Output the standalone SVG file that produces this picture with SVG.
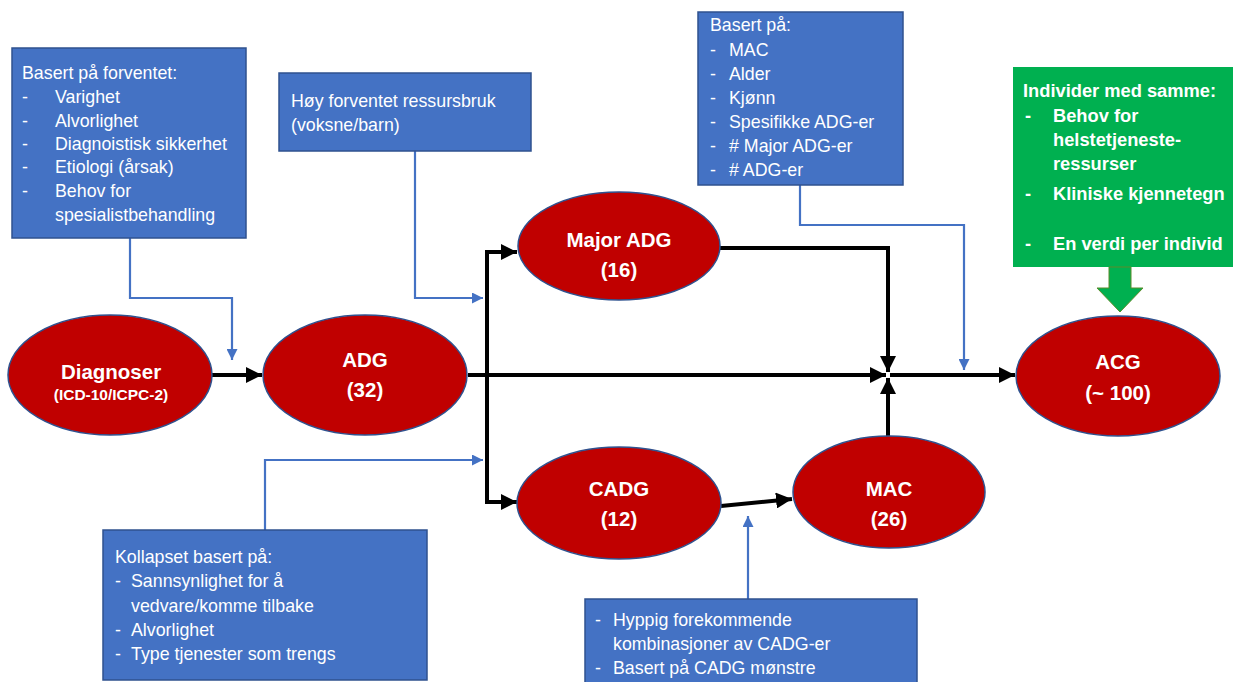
<svg xmlns="http://www.w3.org/2000/svg" width="1235" height="682" viewBox="0 0 1235 682">
<style>
.box{fill:#4472C4;stroke:#2F528F;stroke-width:1.5}
.gbox{fill:#00B050;stroke:none}
.ell{fill:#C00000;stroke:#2F528F;stroke-width:1.5}
.bt{font-family:"Liberation Sans",Arial,sans-serif;font-size:17.8px;fill:#ffffff}
.gt{font-family:"Liberation Sans",Arial,sans-serif;font-size:18.3px;font-weight:bold;fill:#ffffff}
.et{font-family:"Liberation Sans",Arial,sans-serif;font-size:20.5px;font-weight:bold;fill:#ffffff;text-anchor:middle}
.es{font-family:"Liberation Sans",Arial,sans-serif;font-size:15.5px;font-weight:bold;fill:#ffffff;text-anchor:middle}
.blk{fill:none;stroke:#000;stroke-width:4;marker-end:url(#ab)}
.blkn{fill:none;stroke:#000;stroke-width:4}
.blu{fill:none;stroke:#4472C4;stroke-width:2.2;marker-end:url(#abl)}
</style>
<defs>
<marker id="ab" viewBox="0 0 10 10" refX="10" refY="5" markerWidth="4" markerHeight="4" orient="auto" markerUnits="strokeWidth"><path d="M0,0 L10,5 L0,10 z" fill="#000"/></marker>
<marker id="abl" viewBox="0 0 10 10" refX="10" refY="5" markerWidth="5" markerHeight="5" orient="auto" markerUnits="strokeWidth"><path d="M0,0 L10,5 L0,10 z" fill="#4472C4"/></marker>
</defs>

<g id="connectors">
<path class="blk" d="M212,375 L262,375"/>
<path class="blkn" d="M468,375 L487,375"/>
<path class="blk" d="M487,375 L886,375"/>
<path class="blk" d="M890,375 L1015,375"/>
<path class="blkn" d="M487,252 L487,502"/>
<path class="blk" d="M485,252 L517,252"/>
<path class="blk" d="M485,502 L517,502"/>
<path class="blk" d="M720,248 L888,248 L888,372"/>
<path class="blk" d="M888,437 L888,378"/>
<path class="blk" d="M721,506 L792,499"/>
<path class="blu" d="M130,238 L130,298 L232,298 L232,360"/>
<path class="blu" d="M415,150 L415,298 L483,298"/>
<path class="blu" d="M800,185 L800,225 L964,225 L964,370"/>
<path class="blu" d="M265,530 L265,460 L483,460"/>
<path class="blu" d="M748,599 L748,516"/>
</g>

<g id="box-forventet">
<rect class="box" x="12" y="48" width="234" height="190"/>
<text class="bt" x="22" y="79">Basert på forventet:</text>
<text class="bt" x="22" y="103">-</text><text class="bt" x="55" y="103">Varighet</text>
<text class="bt" x="22" y="127">-</text><text class="bt" x="55" y="127">Alvorlighet</text>
<text class="bt" x="22" y="150">-</text><text class="bt" x="55" y="150">Diagnoistisk sikkerhet</text>
<text class="bt" x="22" y="173">-</text><text class="bt" x="55" y="173">Etiologi (årsak)</text>
<text class="bt" x="22" y="197">-</text><text class="bt" x="55" y="197">Behov for</text>
<text class="bt" x="55" y="221">spesialistbehandling</text>
</g>

<g id="box-ressursbruk">
<rect class="box" x="279" y="73" width="252" height="78"/>
<text class="bt" x="291" y="107">Høy forventet ressursbruk</text>
<text class="bt" x="291" y="131">(voksne/barn)</text>
</g>

<g id="box-basert">
<rect class="box" x="698" y="12" width="205" height="173"/>
<text class="bt" x="710" y="31">Basert på:</text>
<text class="bt" x="710" y="56">-</text><text class="bt" x="729" y="56">MAC</text>
<text class="bt" x="710" y="80">-</text><text class="bt" x="729" y="80">Alder</text>
<text class="bt" x="710" y="104">-</text><text class="bt" x="729" y="104">Kjønn</text>
<text class="bt" x="710" y="128">-</text><text class="bt" x="729" y="128">Spesifikke ADG-er</text>
<text class="bt" x="710" y="152">-</text><text class="bt" x="729" y="152"># Major ADG-er</text>
<text class="bt" x="710" y="176">-</text><text class="bt" x="729" y="176"># ADG-er</text>
</g>

<g id="box-individer">
<rect class="gbox" x="1013" y="67" width="220" height="200"/>
<text class="gt" x="1023" y="97">Individer med samme:</text>
<text class="gt" x="1025" y="122">-</text><text class="gt" x="1053" y="122">Behov for</text>
<text class="gt" x="1053" y="146">helstetjeneste-</text>
<text class="gt" x="1053" y="170">ressurser</text>
<text class="gt" x="1025" y="200">-</text><text class="gt" x="1053" y="200">Kliniske kjennetegn</text>
<text class="gt" x="1025" y="250">-</text><text class="gt" x="1053" y="250">En verdi per individ</text>
<path d="M1109,267 L1131,267 L1131,288 L1143,288 L1120,312 L1097,288 L1109,288 z" fill="#00B050" stroke="#5B8C2A" stroke-width="1"/>
</g>

<g id="box-kollapset">
<rect class="box" x="103" y="530" width="324" height="150"/>
<text class="bt" x="115" y="563">Kollapset basert på:</text>
<text class="bt" x="115" y="587">-</text><text class="bt" x="131" y="587">Sannsynlighet for å</text>
<text class="bt" x="131" y="612">vedvare/komme tilbake</text>
<text class="bt" x="115" y="636">-</text><text class="bt" x="131" y="636">Alvorlighet</text>
<text class="bt" x="115" y="660">-</text><text class="bt" x="131" y="660">Type tjenester som trengs</text>
</g>

<g id="box-hyppig">
<rect class="box" x="585" y="599" width="332" height="90"/>
<text class="bt" x="595" y="626">-</text><text class="bt" x="613" y="626">Hyppig forekommende</text>
<text class="bt" x="613" y="650">kombinasjoner av CADG-er</text>
<text class="bt" x="595" y="674">-</text><text class="bt" x="613" y="674">Basert på CADG mønstre</text>
</g>

<g id="node-diagnoser">
<ellipse class="ell" cx="110" cy="375" rx="102" ry="60"/>
<text class="et" x="111" y="379">Diagnoser</text>
<text class="es" x="111" y="400">(ICD-10/ICPC-2)</text>
</g>
<g id="node-adg">
<ellipse class="ell" cx="365" cy="375" rx="102" ry="60"/>
<text class="et" x="365" y="367">ADG</text>
<text class="et" x="365" y="397">(32)</text>
</g>
<g id="node-major">
<ellipse class="ell" cx="619" cy="246" rx="101" ry="54"/>
<text class="et" x="619" y="247">Major ADG</text>
<text class="et" x="619" y="277">(16)</text>
</g>
<g id="node-cadg">
<ellipse class="ell" cx="619" cy="503" rx="102" ry="56"/>
<text class="et" x="619" y="496">CADG</text>
<text class="et" x="619" y="526">(12)</text>
</g>
<g id="node-mac">
<ellipse class="ell" cx="889" cy="492" rx="96" ry="56"/>
<text class="et" x="889" y="496">MAC</text>
<text class="et" x="889" y="526">(26)</text>
</g>
<g id="node-acg">
<ellipse class="ell" cx="1118" cy="376" rx="102" ry="60"/>
<text class="et" x="1118" y="369">ACG</text>
<text class="et" x="1118" y="400">(~ 100)</text>
</g>
</svg>
